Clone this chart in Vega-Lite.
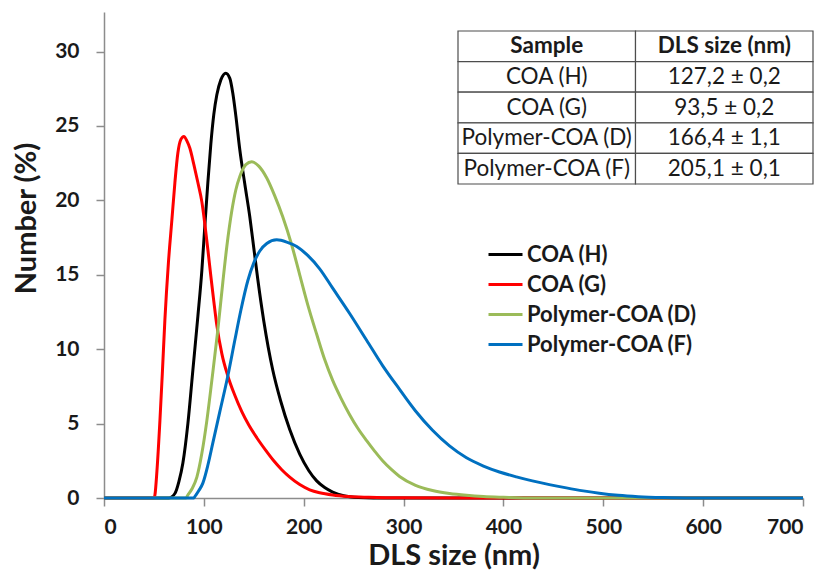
{
  "$schema": "https://vega.github.io/schema/vega-lite/v6.json",
  "autosize": "none",
  "width": 699,
  "height": 486,
  "padding": {"left": 104, "top": 12, "right": 20, "bottom": 75},
  "background": "white",
  "config": {
    "view": {"stroke": null},
    "font": "Lato",
    "axis": {"grid": false, "domainColor": "#8c8c8c", "tickColor": "#8c8c8c", "domainWidth": 1.5, "tickWidth": 1.5, "tickSize": 8, "labelFont": "Lato", "labelFontWeight": "bold", "labelFontSize": 21, "labelColor": "#1a1a1a", "titleFont": "Lato", "titleFontWeight": "bold", "titleFontSize": 29, "titleColor": "#1a1a1a"}
  },
  "datasets": {
    "curves": [
      {"series": "COA (H)", "size": 0, "number": 0}, {"series": "COA (H)", "size": 65, "number": 0}, {"series": "COA (H)", "size": 71, "number": 0.3}, {"series": "COA (H)", "size": 75, "number": 1.1}, {"series": "COA (H)", "size": 79, "number": 2.35}, {"series": "COA (H)", "size": 84, "number": 5}, {"series": "COA (H)", "size": 89, "number": 8.6}, {"series": "COA (H)", "size": 94, "number": 12.2}, {"series": "COA (H)", "size": 98, "number": 15.3}, {"series": "COA (H)", "size": 101, "number": 18.3}, {"series": "COA (H)", "size": 104, "number": 21.2}, {"series": "COA (H)", "size": 107, "number": 23.8}, {"series": "COA (H)", "size": 110, "number": 25.8}, {"series": "COA (H)", "size": 113, "number": 27.1}, {"series": "COA (H)", "size": 117, "number": 28.1}, {"series": "COA (H)", "size": 122, "number": 28.55}, {"series": "COA (H)", "size": 126, "number": 28.2}, {"series": "COA (H)", "size": 129, "number": 27.2}, {"series": "COA (H)", "size": 132, "number": 25.7}, {"series": "COA (H)", "size": 136, "number": 23.4}, {"series": "COA (H)", "size": 141, "number": 21.1}, {"series": "COA (H)", "size": 146, "number": 18.9}, {"series": "COA (H)", "size": 150, "number": 16.8}, {"series": "COA (H)", "size": 154, "number": 14.7}, {"series": "COA (H)", "size": 160, "number": 11.9}, {"series": "COA (H)", "size": 169, "number": 8.6}, {"series": "COA (H)", "size": 177, "number": 6.5}, {"series": "COA (H)", "size": 186, "number": 4.6}, {"series": "COA (H)", "size": 196, "number": 2.95}, {"series": "COA (H)", "size": 205, "number": 1.85}, {"series": "COA (H)", "size": 213, "number": 1.15}, {"series": "COA (H)", "size": 221, "number": 0.7}, {"series": "COA (H)", "size": 229, "number": 0.4}, {"series": "COA (H)", "size": 240, "number": 0.15}, {"series": "COA (H)", "size": 255, "number": 0.03}, {"series": "COA (H)", "size": 270, "number": 0}, {"series": "COA (H)", "size": 700, "number": 0},
      {"series": "COA (G)", "size": 0, "number": 0}, {"series": "COA (G)", "size": 50, "number": 0}, {"series": "COA (G)", "size": 51, "number": 0.2}, {"series": "COA (G)", "size": 53, "number": 1.8}, {"series": "COA (G)", "size": 56, "number": 5.2}, {"series": "COA (G)", "size": 58.5, "number": 8.5}, {"series": "COA (G)", "size": 61, "number": 12}, {"series": "COA (G)", "size": 64.5, "number": 15.8}, {"series": "COA (G)", "size": 68, "number": 18.7}, {"series": "COA (G)", "size": 71, "number": 21.2}, {"series": "COA (G)", "size": 74, "number": 23.2}, {"series": "COA (G)", "size": 77, "number": 24.1}, {"series": "COA (G)", "size": 80, "number": 24.3}, {"series": "COA (G)", "size": 83, "number": 24.0}, {"series": "COA (G)", "size": 86, "number": 23.5}, {"series": "COA (G)", "size": 90, "number": 22.4}, {"series": "COA (G)", "size": 94, "number": 21.2}, {"series": "COA (G)", "size": 98, "number": 19.9}, {"series": "COA (G)", "size": 101, "number": 18.4}, {"series": "COA (G)", "size": 104, "number": 16.7}, {"series": "COA (G)", "size": 107, "number": 14.9}, {"series": "COA (G)", "size": 110, "number": 13.2}, {"series": "COA (G)", "size": 113, "number": 11.6}, {"series": "COA (G)", "size": 118, "number": 9.7}, {"series": "COA (G)", "size": 124, "number": 8.2}, {"series": "COA (G)", "size": 131, "number": 6.9}, {"series": "COA (G)", "size": 138, "number": 5.8}, {"series": "COA (G)", "size": 145, "number": 4.9}, {"series": "COA (G)", "size": 153, "number": 4.05}, {"series": "COA (G)", "size": 162, "number": 3.2}, {"series": "COA (G)", "size": 170, "number": 2.5}, {"series": "COA (G)", "size": 178, "number": 1.9}, {"series": "COA (G)", "size": 186, "number": 1.4}, {"series": "COA (G)", "size": 196, "number": 0.9}, {"series": "COA (G)", "size": 206, "number": 0.55}, {"series": "COA (G)", "size": 216, "number": 0.35}, {"series": "COA (G)", "size": 229, "number": 0.2}, {"series": "COA (G)", "size": 245, "number": 0.1}, {"series": "COA (G)", "size": 265, "number": 0.05}, {"series": "COA (G)", "size": 300, "number": 0.01}, {"series": "COA (G)", "size": 350, "number": 0}, {"series": "COA (G)", "size": 700, "number": 0},
      {"series": "Polymer-COA (D)", "size": 0, "number": 0}, {"series": "Polymer-COA (D)", "size": 82, "number": 0}, {"series": "Polymer-COA (D)", "size": 84, "number": 0.2}, {"series": "Polymer-COA (D)", "size": 88, "number": 0.6}, {"series": "Polymer-COA (D)", "size": 93, "number": 1.4}, {"series": "Polymer-COA (D)", "size": 98, "number": 3.0}, {"series": "Polymer-COA (D)", "size": 103, "number": 5.2}, {"series": "Polymer-COA (D)", "size": 108, "number": 7.9}, {"series": "Polymer-COA (D)", "size": 114, "number": 11.3}, {"series": "Polymer-COA (D)", "size": 119, "number": 14.5}, {"series": "Polymer-COA (D)", "size": 123, "number": 16.9}, {"series": "Polymer-COA (D)", "size": 128, "number": 19.3}, {"series": "Polymer-COA (D)", "size": 132, "number": 20.7}, {"series": "Polymer-COA (D)", "size": 136, "number": 21.6}, {"series": "Polymer-COA (D)", "size": 142, "number": 22.4}, {"series": "Polymer-COA (D)", "size": 148, "number": 22.6}, {"series": "Polymer-COA (D)", "size": 155, "number": 22.3}, {"series": "Polymer-COA (D)", "size": 163, "number": 21.5}, {"series": "Polymer-COA (D)", "size": 171, "number": 20.3}, {"series": "Polymer-COA (D)", "size": 179, "number": 18.9}, {"series": "Polymer-COA (D)", "size": 188, "number": 17.0}, {"series": "Polymer-COA (D)", "size": 196, "number": 15.0}, {"series": "Polymer-COA (D)", "size": 204, "number": 13.0}, {"series": "Polymer-COA (D)", "size": 213, "number": 11.0}, {"series": "Polymer-COA (D)", "size": 221, "number": 9.3}, {"series": "Polymer-COA (D)", "size": 229, "number": 7.9}, {"series": "Polymer-COA (D)", "size": 237, "number": 6.75}, {"series": "Polymer-COA (D)", "size": 246, "number": 5.6}, {"series": "Polymer-COA (D)", "size": 254, "number": 4.7}, {"series": "Polymer-COA (D)", "size": 263, "number": 3.85}, {"series": "Polymer-COA (D)", "size": 271, "number": 3.15}, {"series": "Polymer-COA (D)", "size": 279, "number": 2.5}, {"series": "Polymer-COA (D)", "size": 288, "number": 1.9}, {"series": "Polymer-COA (D)", "size": 296, "number": 1.45}, {"series": "Polymer-COA (D)", "size": 312, "number": 0.85}, {"series": "Polymer-COA (D)", "size": 329, "number": 0.5}, {"series": "Polymer-COA (D)", "size": 346, "number": 0.3}, {"series": "Polymer-COA (D)", "size": 363, "number": 0.18}, {"series": "Polymer-COA (D)", "size": 380, "number": 0.1}, {"series": "Polymer-COA (D)", "size": 400, "number": 0.05}, {"series": "Polymer-COA (D)", "size": 430, "number": 0}, {"series": "Polymer-COA (D)", "size": 700, "number": 0},
      {"series": "Polymer-COA (F)", "size": 0, "number": 0}, {"series": "Polymer-COA (F)", "size": 90, "number": 0}, {"series": "Polymer-COA (F)", "size": 91, "number": 0.1}, {"series": "Polymer-COA (F)", "size": 95, "number": 0.5}, {"series": "Polymer-COA (F)", "size": 99, "number": 1.0}, {"series": "Polymer-COA (F)", "size": 104, "number": 2.2}, {"series": "Polymer-COA (F)", "size": 109, "number": 3.7}, {"series": "Polymer-COA (F)", "size": 116, "number": 5.8}, {"series": "Polymer-COA (F)", "size": 124, "number": 8.2}, {"series": "Polymer-COA (F)", "size": 131, "number": 10.6}, {"series": "Polymer-COA (F)", "size": 137, "number": 12.6}, {"series": "Polymer-COA (F)", "size": 144, "number": 14.6}, {"series": "Polymer-COA (F)", "size": 150, "number": 15.8}, {"series": "Polymer-COA (F)", "size": 156, "number": 16.6}, {"series": "Polymer-COA (F)", "size": 163, "number": 17.1}, {"series": "Polymer-COA (F)", "size": 173, "number": 17.35}, {"series": "Polymer-COA (F)", "size": 183, "number": 17.2}, {"series": "Polymer-COA (F)", "size": 193, "number": 16.9}, {"series": "Polymer-COA (F)", "size": 204, "number": 16.3}, {"series": "Polymer-COA (F)", "size": 216, "number": 15.4}, {"series": "Polymer-COA (F)", "size": 229, "number": 14.1}, {"series": "Polymer-COA (F)", "size": 246, "number": 12.4}, {"series": "Polymer-COA (F)", "size": 263, "number": 10.6}, {"series": "Polymer-COA (F)", "size": 279, "number": 8.9}, {"series": "Polymer-COA (F)", "size": 296, "number": 7.3}, {"series": "Polymer-COA (F)", "size": 312, "number": 5.85}, {"series": "Polymer-COA (F)", "size": 329, "number": 4.55}, {"series": "Polymer-COA (F)", "size": 346, "number": 3.5}, {"series": "Polymer-COA (F)", "size": 363, "number": 2.7}, {"series": "Polymer-COA (F)", "size": 380, "number": 2.15}, {"series": "Polymer-COA (F)", "size": 396, "number": 1.75}, {"series": "Polymer-COA (F)", "size": 413, "number": 1.42}, {"series": "Polymer-COA (F)", "size": 429, "number": 1.15}, {"series": "Polymer-COA (F)", "size": 446, "number": 0.9}, {"series": "Polymer-COA (F)", "size": 463, "number": 0.68}, {"series": "Polymer-COA (F)", "size": 480, "number": 0.48}, {"series": "Polymer-COA (F)", "size": 496, "number": 0.32}, {"series": "Polymer-COA (F)", "size": 515, "number": 0.18}, {"series": "Polymer-COA (F)", "size": 535, "number": 0.09}, {"series": "Polymer-COA (F)", "size": 560, "number": 0.03}, {"series": "Polymer-COA (F)", "size": 590, "number": 0}, {"series": "Polymer-COA (F)", "size": 700, "number": 0}
    ],
    "table": [
      {"row": 0, "col": "Sample", "label": "Sample"},
      {"row": 0, "col": "DLS", "label": "DLS size (nm)"},
      {"row": 1, "col": "Sample", "label": "COA (H)"},
      {"row": 1, "col": "DLS", "label": "127,2 ± 0,2"},
      {"row": 2, "col": "Sample", "label": "COA (G)"},
      {"row": 2, "col": "DLS", "label": "93,5 ± 0,2"},
      {"row": 3, "col": "Sample", "label": "Polymer-COA (D)"},
      {"row": 3, "col": "DLS", "label": "166,4 ± 1,1"},
      {"row": 4, "col": "Sample", "label": "Polymer-COA (F)"},
      {"row": 4, "col": "DLS", "label": "205,1 ± 0,1"}
    ]
  },
  "layer": [
    {
      "data": {"name": "curves"},
      "mark": {"type": "line", "strokeWidth": 3, "interpolate": "monotone", "clip": false},
      "encoding": {
        "x": {"field": "size", "type": "quantitative", "scale": {"domain": [0, 700], "nice": false}, "axis": {"values": [0, 100, 200, 300, 400, 500, 600, 700], "title": "DLS size (nm)", "labelPadding": 10, "titlePadding": 4}},
        "y": {"field": "number", "type": "quantitative", "scale": {"domain": [0, 32.66], "nice": false}, "axis": {"values": [0, 5, 10, 15, 20, 25, 30], "title": "Number (%)", "labelPadding": 17, "titlePadding": 13, "titleY": 206}},
        "color": {"field": "series", "type": "nominal", "sort": ["COA (H)", "COA (G)", "Polymer-COA (D)", "Polymer-COA (F)"],
          "scale": {"domain": ["COA (H)", "COA (G)", "Polymer-COA (D)", "Polymer-COA (F)"], "range": ["#000000", "#ff0000", "#9bbb59", "#0070c0"]},
          "legend": {"title": null, "orient": "none", "legendX": 383, "legendY": 224, "padding": 0, "symbolType": "stroke", "symbolSize": 1156, "symbolStrokeWidth": 3, "labelFont": "Lato", "labelFontSize": 22, "labelFontWeight": "bold", "labelColor": "#1a1a1a", "labelOffset": 3, "rowPadding": -9, "labelLimit": 400}}
      }
    },
    {
      "data": {"name": "table"},
      "layer": [
        {
          "mark": {"type": "rect", "fill": "white", "stroke": "#4d4d4d", "strokeWidth": 1.2},
          "encoding": {
            "x": {"field": "col", "type": "nominal", "sort": ["Sample", "DLS"], "scale": {"type": "band", "range": [354, 709], "paddingInner": 0, "paddingOuter": 0}, "axis": null},
            "y": {"field": "row", "type": "ordinal", "scale": {"type": "band", "range": [19, 172], "paddingInner": 0, "paddingOuter": 0}, "axis": null}
          }
        },
        {
          "transform": [{"filter": "datum.row == 0"}],
          "mark": {"type": "text", "font": "Lato", "fontSize": 22.5, "fontWeight": "bold", "color": "#1a1a1a", "baseline": "middle", "align": "center"},
          "encoding": {
            "x": {"field": "col", "type": "nominal", "sort": ["Sample", "DLS"], "axis": null},
            "y": {"field": "row", "type": "ordinal", "axis": null},
            "text": {"field": "label"}
          }
        },
        {
          "transform": [{"filter": "datum.row > 0"}],
          "mark": {"type": "text", "font": "Lato", "fontSize": 22.5, "color": "#1a1a1a", "baseline": "middle", "align": "center"},
          "encoding": {
            "x": {"field": "col", "type": "nominal", "sort": ["Sample", "DLS"], "axis": null},
            "y": {"field": "row", "type": "ordinal", "axis": null},
            "text": {"field": "label"}
          }
        }
      ]
    }
  ],
  "resolve": {"scale": {"x": "independent", "y": "independent", "color": "independent"}}
}
